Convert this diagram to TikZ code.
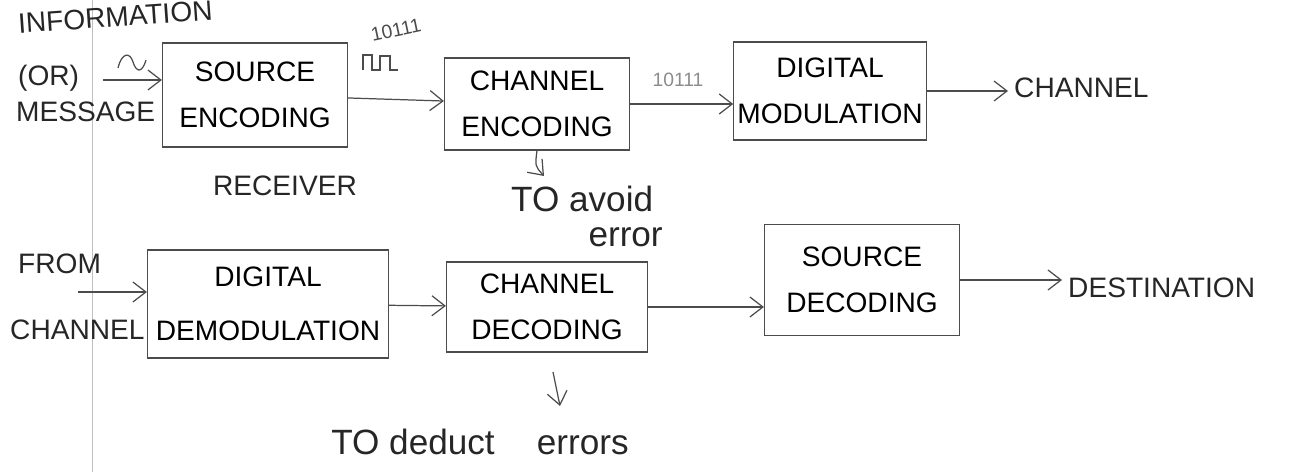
\documentclass[tikz,border=0pt]{standalone}
\usepackage{fontspec}
\setmainfont{Liberation Sans}
\usepackage{tikz}
\usetikzlibrary{positioning,arrows.meta}

\begin{document}
\begin{tikzpicture}[x=0.02cm,y=-0.02cm,
		blk/.style={draw=black!70, line width=0.7pt, align=center, inner sep=2pt,
			font=\fontsize{16}{26}\selectfont},
		lbl/.style={font=\fontsize{16}{22}\selectfont, text=black!85},
		arr/.style={-{Straight Barb[length=2.6mm,width=4mm]}, draw=black!70, line width=0.7pt}]
				\useasboundingbox (0,0) rectangle (1313,472);
				\draw[black!25] (92,0) -- (92,472);
				
				% transmitter
				\node[blk, minimum width=3.7cm, minimum height=2.08cm] (se) at (255,95) {SOURCE\\ENCODING};
				\node[blk, minimum width=3.7cm, minimum height=1.84cm] (ce) at (537,104) {CHANNEL\\ENCODING};
				\node[blk, minimum width=3.8cm, minimum height=1.96cm] (dm) at (830,91) {DIGITAL\\MODULATION};
				\node[lbl, anchor=west] (ch) at (1008,88) {CHANNEL};
				
				\node[lbl, anchor=west, rotate=4] (info) at (12,24) {INFORMATION};
				\node[lbl, anchor=west] (or) at (12,78) {(OR)};
				\node[lbl, anchor=west] (msg) at (10,112) {MESSAGE};
				\coordinate (in1) at (103,80);
				\draw[arr] (in1) -- (in1 -| se.west);
				\draw[black!70, line width=0.7pt] (118,68) .. controls (122,52) and (130,52) .. (133,62) .. controls (136,72) and (142,74) .. (146,60);
				
				\draw[arr] (se) -- (ce);
				\node[font=\fontsize{11}{11}\selectfont, text=black!70, rotate=12] (bits1) at (396,30) {10111};
				\draw[black!70, line width=0.6pt] (363,55) -- (363,70) -- (363,55) -- (372,55) -- (372,70) -- (380,70) -- (380,56) -- (390,56) -- (390,70) -- (398,70);
				\draw[arr] (ce.east) -- (ce.east -| dm.west);
				\node[font=\fontsize{11}{11}\selectfont, text=black!45] (bits2) at (678,80) {10111};
				\draw[arr] (dm.east) -- (dm.east -| ch.west);
				
				\coordinate (av) at (544,176);
				\draw[arr] (ce.south) .. controls (535,166) .. (av);
				\node[lbl, font=\fontsize{20}{20}\selectfont, align=left, anchor=north west] (avoid) at (505,180) {TO avoid\\\hspace*{2.2em}error};
				
				% receiver
				\node[lbl] (rx) at (285,186) {RECEIVER};
				\node[blk, minimum width=4.82cm, minimum height=2.16cm, font=\fontsize{16}{31}\selectfont] (dd) at (268,304) {DIGITAL\\DEMODULATION};
				\node[blk, minimum width=4.02cm, minimum height=1.8cm] (cd) at (547,307) {CHANNEL\\DECODING};
				\node[blk, minimum width=3.9cm, minimum height=2.22cm] (sd) at (862,280) {SOURCE\\DECODING};
				\node[lbl, anchor=west] (dest) at (1062,288) {DESTINATION};
				
				\node[lbl, anchor=west] (from) at (12,264) {FROM};
				\node[lbl, anchor=west] (fch) at (4,330) {CHANNEL};
				\coordinate (in2) at (78,292);
				\draw[arr] (in2) -- (in2 -| dd.west);
				\draw[arr] (dd) -- (cd);
				\draw[arr] (cd.east) -- (cd.east -| sd.west);
				\draw[arr] (sd.east) -- (sd.east -| dest.west);
				
				\coordinate (dd1) at (553,372);
				\coordinate (dd2) at (560,406);
				\draw[arr] (dd1) -- (dd2);
				\node[lbl, font=\fontsize{20}{26}\selectfont] (deduct) at (480,442) {TO deduct\hspace{1.2em}errors};
			\end{tikzpicture}
\end{document}
